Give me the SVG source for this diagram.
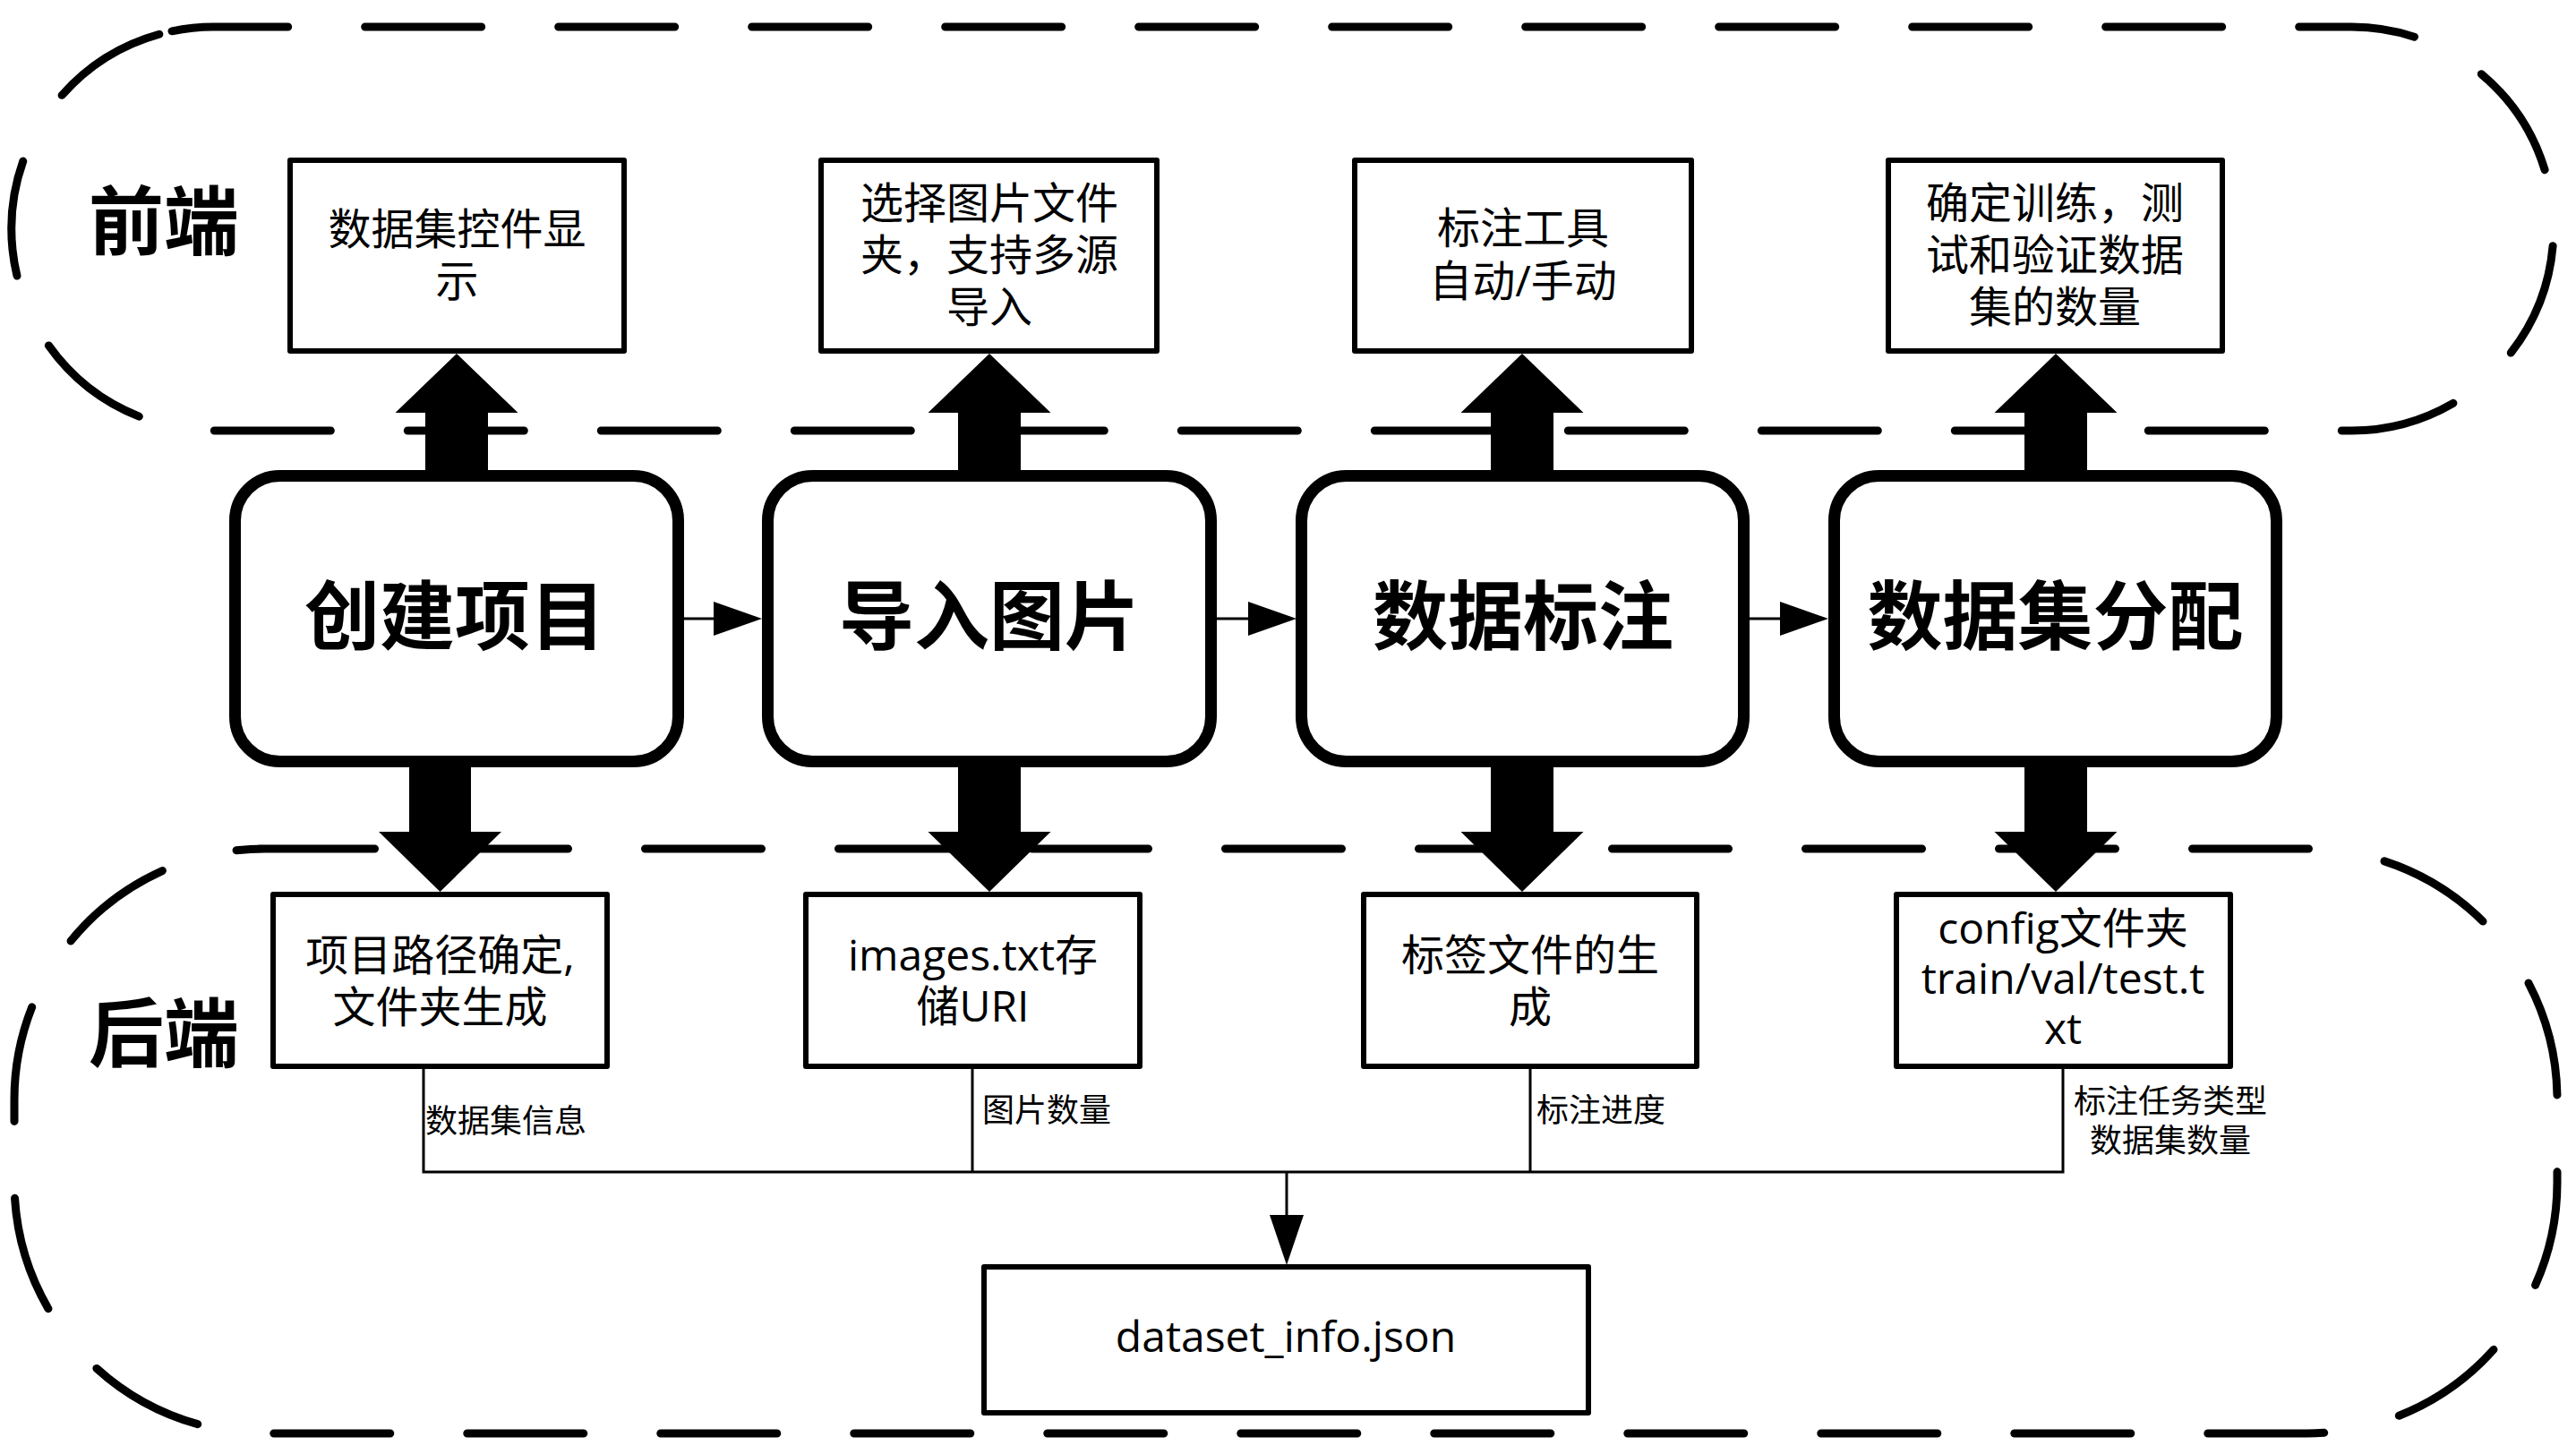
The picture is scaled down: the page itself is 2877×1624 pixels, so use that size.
<svg xmlns="http://www.w3.org/2000/svg" width="2877" height="1624" viewBox="0 0 2877 1624">
<style>
.region{fill:none;stroke:#000;stroke-width:9;stroke-dasharray:130 86;stroke-linecap:round}
.main{fill:#fff;stroke:#000;stroke-width:13}
.box{fill:#fff;stroke:#000;stroke-width:6;stroke-linejoin:round}
.block{fill:#000}
.conn{fill:none;stroke:#000;stroke-width:3}
.head{fill:#000}
.title{font-family:"Noto Sans CJK SC",sans-serif;font-weight:700;font-size:84px;text-anchor:middle}
.t{font-family:"Open Sans","Noto Sans CJK SC",sans-serif;font-size:48px;text-anchor:middle}
.lbl{font-family:"Noto Sans CJK SC",sans-serif;font-size:36px}
</style>
<rect width="2877" height="1624" fill="#fff"/>
<g id="region-front">
<path class="region" d="M192,34.8 A225.5,225.5 0 0 1 238.5,30 L2626.5,30 A225.5,225.5 0 0 1 2626.5,481 L238.5,481 A225.5,225.5 0 0 1 192,34.8 Z"/>
<text class="title" x="183" y="278">前端</text>
</g>
<g id="region-back">
<path class="region" d="M288.5,948 L2576,948 A280,280 0 0 1 2856,1228 L2856,1321 A280,280 0 0 1 2576,1601 L296,1601 A280,280 0 0 1 16,1321 L16,1228 A280,280 0 0 1 296,948 Z"/>
<text class="title" x="183" y="1185">后端</text>
</g>
<g id="connectors">
<polygon class="block" points="475,531 475,461 441.5,461 510,395 578.5,461 545,461 545,531"/>
<polygon class="block" points="1070,531 1070,461 1036.5,461 1105,395 1173.5,461 1140,461 1140,531"/>
<polygon class="block" points="1665,531 1665,461 1631.5,461 1700,395 1768.5,461 1735,461 1735,531"/>
<polygon class="block" points="2261,531 2261,461 2227.5,461 2296,395 2364.5,461 2331,461 2331,531"/>
<polygon class="block" points="457,850 457,929 423,929 491.5,996 560,929 526,929 526,850"/>
<polygon class="block" points="1070,850 1070,929 1036.5,929 1105,996 1173.5,929 1140,929 1140,850"/>
<polygon class="block" points="1665,850 1665,929 1631.5,929 1700,996 1768.5,929 1735,929 1735,850"/>
<polygon class="block" points="2261,850 2261,929 2227.5,929 2296,996 2364.5,929 2331,929 2331,850"/>
<line class="conn" x1="764" y1="691" x2="800" y2="691" stroke-width="4"/>
<polygon class="head" points="797,672 851,691 797,710"/>
<line class="conn" x1="1359" y1="691" x2="1397" y2="691" stroke-width="4"/>
<polygon class="head" points="1394,672 1448,691 1394,710"/>
<line class="conn" x1="1953" y1="691" x2="1991" y2="691" stroke-width="4"/>
<polygon class="head" points="1988,672 2042,691 1988,710"/>
<polyline class="conn" points="473,1194 473,1309 2304,1309 2304,1194"/>
<line class="conn" x1="1086" y1="1194" x2="1086" y2="1309"/>
<line class="conn" x1="1709" y1="1194" x2="1709" y2="1309"/>
<line class="conn" x1="1437" y1="1309" x2="1437" y2="1360"/>
<polygon class="head" points="1418,1357 1456,1357 1437,1413"/>
<text class="lbl" x="475" y="1265">数据集信息</text>
<text class="lbl" x="1097" y="1253">图片数量</text>
<text class="lbl" x="1716" y="1253">标注进度</text>
<text class="lbl" x="2424" y="1243" text-anchor="middle">标注任务类型</text>
<text class="lbl" x="2424" y="1287" text-anchor="middle">数据集数量</text>
</g>
<g id="node-create">
<rect class="main" x="262.5" y="531.5" width="495" height="319" rx="50" ry="50"/>
<text class="title" x="508" y="719">创建项目</text>
</g>
<g id="node-import">
<rect class="main" x="857.5" y="531.5" width="495" height="319" rx="50" ry="50"/>
<text class="title" x="1105" y="719">导入图片</text>
</g>
<g id="node-annotate">
<rect class="main" x="1453.5" y="531.5" width="494" height="319" rx="50" ry="50"/>
<text class="title" x="1701" y="719">数据标注</text>
</g>
<g id="node-split">
<rect class="main" x="2048.5" y="531.5" width="494" height="319" rx="50" ry="50"/>
<text class="title" x="2295.5" y="719">数据集分配</text>
</g>
<g id="fe-create">
<rect class="box" x="324" y="179" width="373" height="213"/>
<text class="t" x="510.5" y="273">数据集控件显</text>
<text class="t" x="510.5" y="331">示</text>
</g>
<g id="fe-import">
<rect class="box" x="917" y="179" width="375" height="213"/>
<text class="t" x="1105" y="244">选择图片文件</text>
<text class="t" x="1105" y="302">夹，支持多源</text>
<text class="t" x="1105" y="360">导入</text>
</g>
<g id="fe-annotate">
<rect class="box" x="1513" y="179" width="376" height="213"/>
<text class="t" x="1701" y="272">标注工具</text>
<text class="t" x="1701" y="331">自动/手动</text>
</g>
<g id="fe-split">
<rect class="box" x="2109" y="179" width="373" height="213"/>
<text class="t" x="2295" y="244">确定训练，测</text>
<text class="t" x="2295" y="302">试和验证数据</text>
<text class="t" x="2295" y="360">集的数量</text>
</g>
<g id="be-create">
<rect class="box" x="305" y="999" width="373" height="192"/>
<text class="t" x="491.5" y="1084">项目路径确定,</text>
<text class="t" x="491.5" y="1142">文件夹生成</text>
</g>
<g id="be-import">
<rect class="box" x="900" y="999" width="373" height="192"/>
<text class="t" x="1086.5" y="1084">images.txt存</text>
<text class="t" x="1086.5" y="1141">储URI</text>
</g>
<g id="be-annotate">
<rect class="box" x="1523" y="999" width="372" height="192"/>
<text class="t" x="1709" y="1084">标签文件的生</text>
<text class="t" x="1709" y="1142">成</text>
</g>
<g id="be-split">
<rect class="box" x="2118" y="999" width="373" height="192"/>
<text class="t" x="2304" y="1054">config文件夹</text>
<text class="t" x="2304" y="1110">train/val/test.t</text>
<text class="t" x="2304" y="1166">xt</text>
</g>
<g id="dataset-info">
<rect class="box" x="1099" y="1415" width="675" height="163"/>
<text class="t" x="1436" y="1510">dataset_info.json</text>
</g>
</svg>
